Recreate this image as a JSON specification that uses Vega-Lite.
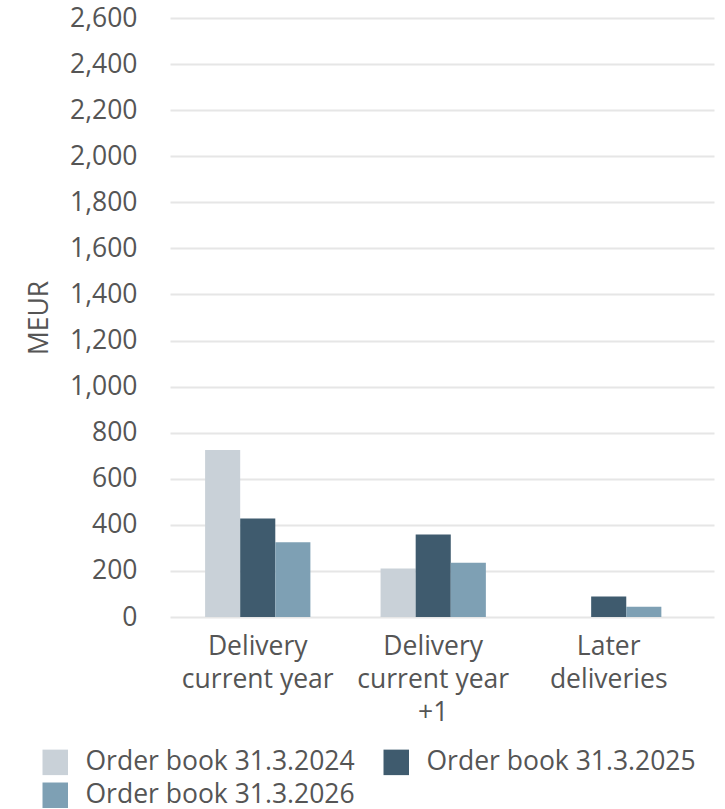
{
  "$schema": "https://vega.github.io/schema/vega-lite/v6.json",
  "width": 544,
  "height": 599,
  "autosize": {"type": "none"},
  "padding": {"left": 170, "top": 18, "right": 11, "bottom": 192},
  "background": "white",
  "config": {
    "font": "Open Sans",
    "view": {"stroke": null}
  },
  "data": {
    "values": [
      {"category": "Delivery current year", "series": "Order book 31.3.2024", "value": 725},
      {"category": "Delivery current year", "series": "Order book 31.3.2025", "value": 428},
      {"category": "Delivery current year", "series": "Order book 31.3.2026", "value": 324},
      {"category": "Delivery current year +1", "series": "Order book 31.3.2024", "value": 210},
      {"category": "Delivery current year +1", "series": "Order book 31.3.2025", "value": 358},
      {"category": "Delivery current year +1", "series": "Order book 31.3.2026", "value": 236},
      {"category": "Later deliveries", "series": "Order book 31.3.2024", "value": 0},
      {"category": "Later deliveries", "series": "Order book 31.3.2025", "value": 89},
      {"category": "Later deliveries", "series": "Order book 31.3.2026", "value": 45}
    ]
  },
  "mark": {"type": "bar"},
  "encoding": {
    "x": {
      "field": "category",
      "type": "nominal",
      "sort": ["Delivery current year", "Delivery current year +1", "Later deliveries"],
      "scale": {"paddingInner": 0.4, "paddingOuter": 0.25, "align": 0.4},
      "axis": {
        "title": null,
        "labelAngle": 0,
        "domain": false,
        "ticks": false,
        "labelFontSize": 26.5,
        "labelColor": "#555555",
        "labelLineHeight": 33,
        "labelPadding": 16,
        "labelBaseline": "top",
        "labelExpr": "datum.value == 'Delivery current year' ? ['Delivery', 'current year'] : datum.value == 'Delivery current year +1' ? ['Delivery', 'current year', '+1'] : ['Later', 'deliveries']"
      }
    },
    "xOffset": {
      "field": "series",
      "type": "nominal",
      "sort": ["Order book 31.3.2024", "Order book 31.3.2025", "Order book 31.3.2026"],
      "scale": {"paddingInner": 0, "paddingOuter": 0}
    },
    "y": {
      "field": "value",
      "type": "quantitative",
      "scale": {"domain": [0, 2600], "nice": false},
      "axis": {
        "values": [0, 200, 400, 600, 800, 1000, 1200, 1400, 1600, 1800, 2000, 2200, 2400, 2600],
        "format": ",.0f",
        "title": "MEUR",
        "titleFontSize": 26.5,
        "titleFontWeight": "normal",
        "titleColor": "#555555",
        "titlePadding": 16,
        "labelFontSize": 26.5,
        "labelColor": "#555555",
        "labelPadding": 33,
        "domain": false,
        "ticks": false,
        "grid": true,
        "gridColor": "#e6e6e6",
        "gridWidth": 2
      }
    },
    "color": {
      "field": "series",
      "type": "nominal",
      "scale": {
        "domain": ["Order book 31.3.2024", "Order book 31.3.2025", "Order book 31.3.2026"],
        "range": ["#c9d1d8", "#3f5b6e", "#7ea0b4"]
      },
      "legend": {
        "title": null,
        "orient": "none",
        "legendX": -128,
        "legendY": 731,
        "columns": 2,
        "values": ["Order book 31.3.2024", "Order book 31.3.2026", "Order book 31.3.2025"],
        "columnPadding": 28,
        "rowPadding": 6,
        "symbolType": "square",
        "symbolSize": 650,
        "symbolStrokeWidth": 0,
        "labelFontSize": 26.5,
        "labelColor": "#555555",
        "labelOffset": 17,
        "labelLimit": 400,
        "padding": 0
      }
    }
  }
}
